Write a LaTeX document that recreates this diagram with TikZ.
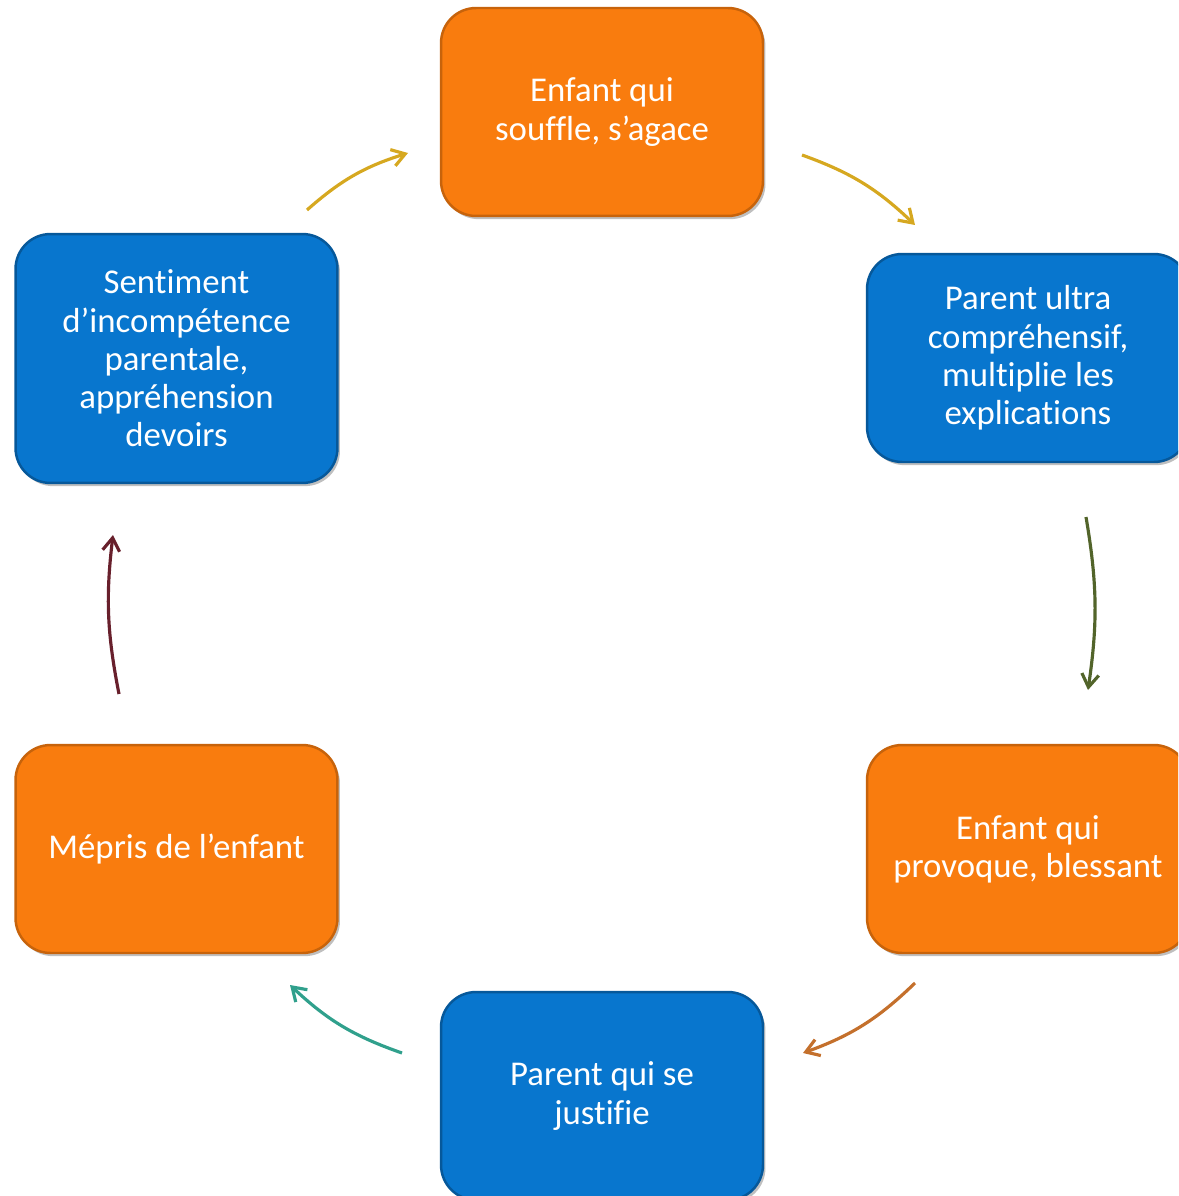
\documentclass[tikz,border=0pt]{standalone}
\usepackage{fontspec}
\setmainfont{Carlito}[Ligatures=NoCommon]
\usepackage{tikz}
\usetikzlibrary{arrows.meta,shadows}
\tikzset{>={Straight Barb[length=2.6mm,width=3.4mm]}}
\definecolor{boxorange}{RGB}{249,124,14}
\definecolor{boxblue}{RGB}{8,118,206}
\definecolor{arrgold}{RGB}{214,168,32}
\definecolor{arrolive}{RGB}{82,100,42}
\definecolor{arrbrown}{RGB}{196,112,44}
\definecolor{arrteal}{RGB}{48,160,140}
\definecolor{arrmaroon}{RGB}{104,32,44}
\tikzset{
  cyclebox/.style={rounded corners=0.7cm,minimum width=6.44cm,minimum height=4.16cm,
    align=center,text=white,font=\fontsize{19.8}{21.8}\selectfont,line width=1.4pt,
    drop shadow={shadow xshift=1.4pt,shadow yshift=-1.8pt,opacity=0.5}},
  orangebox/.style={cyclebox,fill=boxorange,draw=boxorange!80!black},
  bluebox/.style={cyclebox,fill=boxblue,draw=boxblue!75!black},
  cyclearrow/.style={->,line width=1.8pt,bend left=12}
}

\begin{document}
\begin{tikzpicture}[x=0.02cm,y=-0.02cm]
\clip (0,0) rectangle (1178,1196);
    \node[orangebox] (souffle) at (602,112) {Enfant qui\\souffle, s’agace};
    \node[bluebox] (ultra) at (1028,358) {Parent ultra\\compréhensif,\\multiplie les\\explications};
    \node[orangebox] (provoque) at (1028,849) {Enfant qui\\provoque, blessant};
    \node[bluebox] (justifie) at (602,1096) {Parent qui se\\justifie};
    \node[orangebox] (mepris) at (176.5,849) {Mépris de l’enfant};
    \node[bluebox,minimum height=4.98cm] (incomp) at (176.5,358.5) {Sentiment\\d’incompétence\\parentale,\\appréhension\\devoirs};
    % arrow ends, in the gaps between the boxes
    \coordinate (a1s) at (307,210); \coordinate (a1e) at (408,153);
    \coordinate (a2s) at (802,155); \coordinate (a2e) at (915,225);
    \coordinate (a3s) at (1086,517); \coordinate (a3e) at (1088,690);
    \coordinate (a4s) at (915,983); \coordinate (a4e) at (803,1053);
    \coordinate (a5s) at (402,1053); \coordinate (a5e) at (290,985);
    \coordinate (a6s) at (119,694); \coordinate (a6e) at (113,535);
    \draw[cyclearrow,arrgold] (a1s) to (a1e);
    \draw[cyclearrow,arrgold] (a2s) to (a2e);
    \draw[cyclearrow,arrolive,bend left=9] (a3s) to (a3e);
    \draw[cyclearrow,arrbrown] (a4s) to (a4e);
    \draw[cyclearrow,arrteal] (a5s) to (a5e);
    \draw[cyclearrow,arrmaroon,bend left=9] (a6s) to (a6e);
\end{tikzpicture}
\end{document}
